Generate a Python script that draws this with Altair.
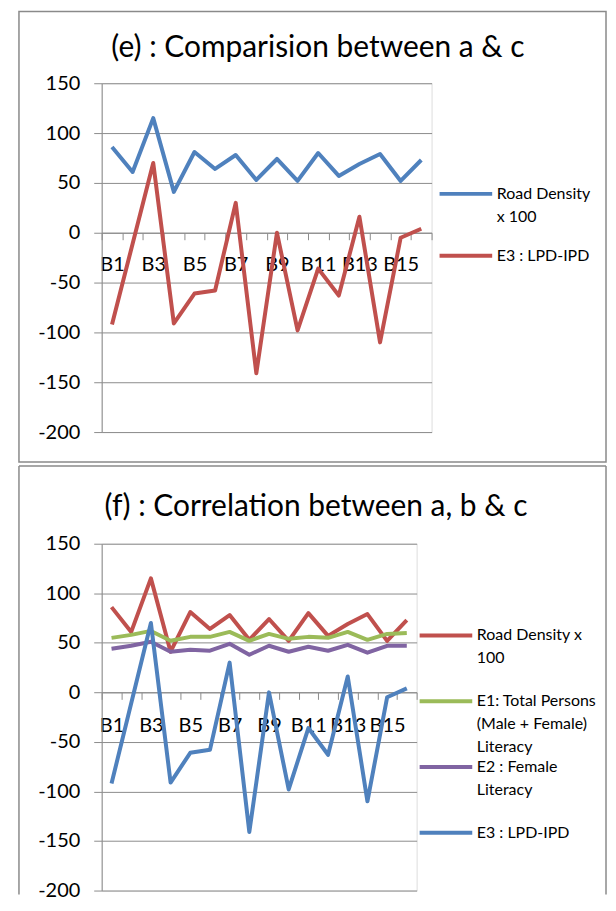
import altair as alt
import pandas as pd

# ---- data ----
blocks = ["B1", "B2", "B3", "B4", "B5", "B6", "B7", "B8",
          "B9", "B10", "B11", "B12", "B13", "B14", "B15", "B16"]
odd_labels = ["B1", "B3", "B5", "B7", "B9", "B11", "B13", "B15"]
road_density = [86, 61, 115, 41, 81, 64, 78, 53, 74, 52, 80, 57, 69, 79, 52, 73]
e1_total = [55, 58, 62, 52, 56, 56, 61, 52, 59, 54, 56, 55, 61, 53, 59, 60]
e2_female = [44, 47, 51, 41, 43, 42, 49, 38, 47, 41, 46, 42, 48, 40, 47, 47]
e3_lpd_ipd = [-92, -11, 70, -91, -61, -58, 30, -141, 0, -98, -36, -63, 16, -110, -5, 4]
y_ticks = [-200, -150, -100, -50, 0, 50, 100, 150]

NAME_RD = "Road Density x 100"
NAME_E1 = "E1: Total Persons (Male + Female) Literacy"
NAME_E2 = "E2 : Female Literacy"
NAME_E3 = "E3 : LPD-IPD"

TITLE_E = "(e) : Comparision between a & c"
TITLE_F = "(f) : Correlation between a, b & c"

BLUE, RED, GREEN, PURPLE = "#4F81BD", "#C0504D", "#9BBB59", "#8064A2"
FONT = "Lato"
GRID = "#8c8c8c"
BORDER = "#8a8a8a"
LEGEND_LINE = "M-4.4,0H4.4"   # long horizontal stroke used as legend symbol
BOX_RIGHT = 506               # right edge of the panel frames, relative to plot


def long_table(names, values):
    rows = []
    for name, vals in zip(names, values):
        for b, v in zip(blocks, vals):
            rows.append({"Block": b, "Series": name, "Value": v})
    return pd.DataFrame(rows)


def lines_layer(names, values, colors, width, height, legend_x, legend_y,
                label_expr, row_padding, x_label_padding):
    df = long_table(names, values)
    odd = "[" + ",".join("'%s'" % s for s in odd_labels) + "]"
    return alt.Chart(df).mark_line(strokeWidth=4, strokeJoin="round").encode(
        x=alt.X("Block:O", sort=blocks,
                scale=alt.Scale(type="band", paddingInner=0, paddingOuter=0),
                axis=alt.Axis(title=None, offset=-(height * 200 / 350),
                              tickBand="extent", tickSize=7, tickColor=GRID,
                              domainColor=GRID, grid=False, labelAngle=0,
                              labelOverlap=False, labelFont=FONT,
                              labelFontSize=20, labelColor="black",
                              labelPadding=x_label_padding,
                              labelExpr="indexof(%s, datum.value) >= 0 ? datum.value : ''" % odd)),
        y=alt.Y("Value:Q",
                scale=alt.Scale(domain=[-200, 150], nice=False, zero=False),
                axis=alt.Axis(title=None, values=y_ticks, grid=True,
                              gridColor=GRID, domainColor=GRID, tickColor=GRID,
                              tickSize=8, labelFont=FONT, labelFontSize=20,
                              labelColor="black", labelPadding=14,
                              labelExpr="'' + datum.value")),
        color=alt.Color("Series:N", sort=names,
                        scale=alt.Scale(domain=names, range=colors),
                        legend=alt.Legend(orient="none", legendX=legend_x,
                                          legendY=legend_y, title=None,
                                          symbolType=LEGEND_LINE, symbolSize=144,
                                          symbolStrokeWidth=4, symbolOffset=20,
                                          labelFont=FONT,
                                          labelFontSize=16, labelColor="black",
                                          labelOffset=23, labelLimit=400,
                                          padding=0, rowPadding=row_padding,
                                          labelExpr=label_expr)),
    ).properties(width=width, height=height)


blank = pd.DataFrame([{"k": 0}])


def title_mark(text, x, y):
    return alt.Chart(blank).mark_text(
        text=text, font=FONT, fontSize=30, color="black",
        align="center", baseline="alphabetic"
    ).encode(x=alt.value(x), y=alt.value(y))


# ---------------- panel (e) ----------------
W_E, H_E = 331, 350
label_e = ("datum.label == '%s' ? ['Road Density', 'x 100'] : [datum.label, '']" % NAME_RD)
lines_e = lines_layer([NAME_RD, NAME_E3], [road_density, e3_lpd_ipd], [BLUE, RED],
                      W_E, H_E, 337.4, 103, label_e, 23, 15)
box_e = alt.Chart(blank).mark_rect(fillOpacity=0, stroke=BORDER, strokeWidth=1.5).encode(
    x=alt.value(-83), x2=alt.value(BOX_RIGHT), y=alt.value(-72), y2=alt.value(380))
panel_e = alt.layer(box_e, title_mark(TITLE_E, 217, -26), lines_e).properties(
    width=W_E, height=H_E)

# ---------------- panel (f) ----------------
W_F, H_F = 316, 348
label_f = ("datum.label == '%s' ? ['Road Density x', '100', ''] : "
           "datum.label == '%s' ? ['E1: Total Persons', '(Male + Female)', 'Literacy'] : "
           "datum.label == '%s' ? ['E2 : Female', 'Literacy', ''] : datum.label"
           % (NAME_RD, NAME_E1, NAME_E2))
lines_f = lines_layer([NAME_RD, NAME_E1, NAME_E2, NAME_E3],
                      [road_density, e1_total, e2_female, e3_lpd_ipd],
                      [RED, GREEN, PURPLE, BLUE],
                      W_F, H_F, 317.4, 84, label_f, 4, 16)
rule_style = dict(color=BORDER, strokeWidth=1.5)
top_f = alt.Chart(blank).mark_rule(**rule_style).encode(
    x=alt.value(-83), x2=alt.value(BOX_RIGHT), y=alt.value(-78))
left_f = alt.Chart(blank).mark_rule(**rule_style).encode(
    x=alt.value(-83), y=alt.value(-78), y2=alt.value(352))
right_f = alt.Chart(blank).mark_rule(**rule_style).encode(
    x=alt.value(BOX_RIGHT), y=alt.value(-78), y2=alt.value(352))
panel_f = alt.layer(top_f, left_f, right_f, title_mark(TITLE_F, 215, -28),
                    lines_f).properties(width=W_F, height=H_F)

chart = alt.vconcat(panel_e, panel_f, spacing=0).resolve_scale(
    color="independent").resolve_legend(color="independent").properties(
    padding={"left": 9, "top": 0, "right": 0, "bottom": 0}
).configure_view(stroke=None).configure(
    style={"guide-label": {"lineHeight": 23}}
)

chart.save("out.html", embed_options={"renderer": "svg", "actions": False})
